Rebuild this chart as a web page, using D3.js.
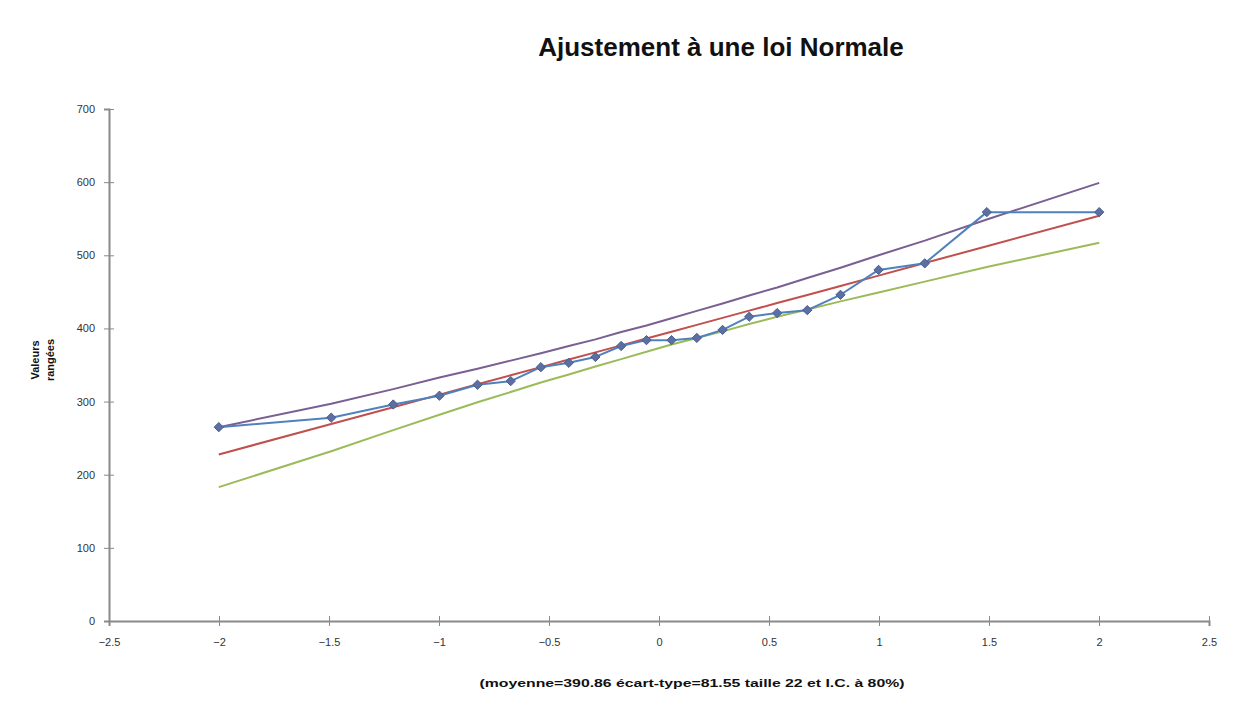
<!DOCTYPE html>
<html>
<head>
<meta charset="utf-8">
<script src="https://cdn.jsdelivr.net/npm/d3@7"></script>
<style>
  html, body { margin: 0; padding: 0; background: #fff; }
  svg { display: block; }
  text { font-family: "Liberation Sans", Arial, sans-serif; }
</style>
</head>
<body>
<svg id="chart" width="1239" height="722"></svg>
<script>
// Normal scores (quantiles) for the 22 ranked observations
const zScores = [-2.001, -1.490, -1.208, -0.998, -0.825, -0.674, -0.537, -0.410, -0.289, -0.172, -0.057,
                  0.057, 0.172, 0.289, 0.410, 0.537, 0.674, 0.825, 0.998, 1.208, 1.490, 2.001];
// Ranked observed values
const observed = [265, 278, 296, 308, 323, 328, 347, 353, 361, 376, 384,
                  384, 387, 398, 416, 421, 425, 446, 480, 489, 559, 559];
// Fitted normal line (mean + sd * z)
const fitted = [227.7, 269.4, 292.3, 309.5, 323.6, 335.9, 347.1, 357.4, 367.3, 376.8, 386.2,
                395.5, 404.9, 414.4, 424.3, 434.7, 445.8, 458.1, 472.2, 489.4, 512.4, 554.0];
// 80% confidence band, upper and lower limits
const upperCI = [265, 297, 317, 333, 345, 356, 366, 376, 385, 395, 404,
                 414, 424, 434, 445, 456, 469, 483, 500, 520, 549, 599];
const lowerCI = [183, 232, 261, 282, 299, 313, 326, 337, 348, 358, 368,
                 378, 387, 396, 406, 416, 426, 437, 449, 464, 484, 517];

const xTicks = [-2.5, -2, -1.5, -1, -0.5, 0, 0.5, 1, 1.5, 2, 2.5];
const yTicks = [0, 100, 200, 300, 400, 500, 600, 700];

const titleText = "Ajustement à une loi Normale";
const xTitleText = "(moyenne=390.86 écart-type=81.55 taille 22 et I.C. à 80%)";
const yTitleLines = ["Valeurs", "rangées"];

const svg = d3.select("#chart");
const plot = { left: 109, right: 1209, top: 109, bottom: 621 };

const x = d3.scaleLinear().domain([-2.5, 2.5]).range([plot.left, plot.right]);
const y = d3.scaleLinear().domain([0, 700]).range([plot.bottom, plot.top]);

const axisColor = "#8a8a8a";

// Y axis
const yAxis = svg.append("g")
  .attr("transform", `translate(${plot.left},0)`)
  .call(d3.axisLeft(y).tickValues(yTicks).tickSize(5).tickPadding(9));
yAxis.select(".domain").attr("stroke", axisColor).attr("stroke-width", 2);
yAxis.selectAll(".tick line").attr("stroke", axisColor).attr("x2", 5).attr("x1", -5);
yAxis.selectAll(".tick text").attr("fill", "#333").style("font-size", "11px");

// X axis at y = 0
const xAxis = svg.append("g")
  .attr("transform", `translate(0,${plot.bottom})`)
  .call(d3.axisBottom(x).tickValues(xTicks).tickSize(5).tickPadding(12)
        .tickFormat(d => d3.format("")(d)));
xAxis.select(".domain").attr("stroke", axisColor).attr("stroke-width", 2);
xAxis.selectAll(".tick line").attr("stroke", axisColor).attr("y1", -5).attr("y2", 5);
xAxis.selectAll(".tick text").attr("fill", "#333").style("font-size", "11px");

// Series lines
const line = vals => d3.line()
  .x((d, i) => x(zScores[i]))
  .y(d => y(d))(vals);

const series = [
  { vals: lowerCI,  color: "#9BBB59" },
  { vals: fitted,   color: "#C0504D" },
  { vals: upperCI,  color: "#7A5F93" },
  { vals: observed, color: "#4F81BD" }
];
series.forEach(s => {
  svg.append("path")
    .attr("d", line(s.vals))
    .attr("fill", "none")
    .attr("stroke", s.color)
    .attr("stroke-width", 2)
    .attr("stroke-linejoin", "round");
});

// Diamond markers on observed values
svg.append("g").selectAll("path")
  .data(observed)
  .join("path")
  .attr("transform", (d, i) => `translate(${x(zScores[i])},${y(d)})`)
  .attr("d", d3.symbol().type(d3.symbolDiamond2).size(55))
  .attr("fill", "#5b6fa3")
  .attr("stroke", "#4a5d8f")
  .attr("stroke-width", 1);

// Title
svg.append("text")
  .attr("x", 721).attr("y", 56)
  .attr("text-anchor", "middle")
  .style("font-size", "26px")
  .style("font-weight", "bold")
  .attr("fill", "#111")
  .text(titleText);

// X axis title
svg.append("text")
  .attr("x", 692).attr("y", 687)
  .attr("text-anchor", "middle")
  .attr("textLength", 425)
  .attr("lengthAdjust", "spacingAndGlyphs")
  .style("font-size", "11px")
  .style("font-weight", "bold")
  .attr("fill", "#111")
  .text(xTitleText);

// Y axis title (two rotated lines)
const yt = svg.append("text")
  .attr("transform", "translate(39,360) rotate(-90)")
  .attr("text-anchor", "middle")
  .style("font-size", "11px")
  .style("font-weight", "bold")
  .attr("fill", "#111");
yTitleLines.forEach((t, i) => {
  yt.append("tspan").attr("x", 0).attr("dy", i === 0 ? 0 : 15).text(t);
});
</script>
</body>
</html>
